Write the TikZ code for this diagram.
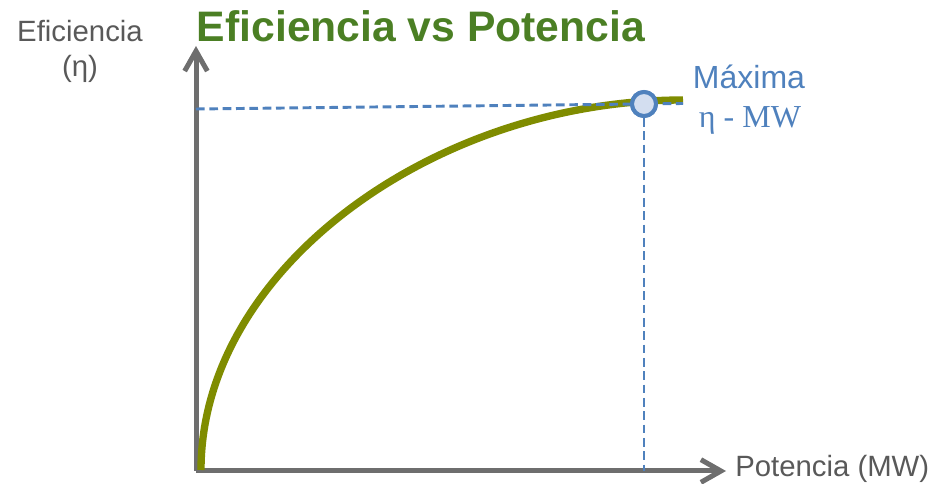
\documentclass[tikz,border=0pt]{standalone}
\usepackage{fontspec}
\setmainfont{Liberation Sans}
\newfontfamily\serifnum{Liberation Serif}
\usetikzlibrary{arrows.meta,positioning}
\definecolor{axisgray}{HTML}{6E6E6E}
\definecolor{olive}{HTML}{7F8C00}
\definecolor{titlegreen}{HTML}{4B7F24}
\definecolor{peakblue}{HTML}{4F81BD}
\definecolor{peakfill}{HTML}{D3DEF0}
\definecolor{labelgray}{HTML}{595959}

\tikzset{
  axis/.style={draw=axisgray, line width=3.75pt, -{Straight Barb[length=15pt,width=17pt]}},
  curve/.style={draw=olive, line width=5.5pt},
  guide/.style={draw=peakblue, line width=2.2pt, dash pattern=on 6.5pt off 3.5pt},
  peak/.style={circle, draw=peakblue, fill=peakfill, line width=3pt, minimum size=18pt, inner sep=0pt},
  axlabel/.style={text=labelgray, font=\fontsize{22}{26}\selectfont, inner sep=0pt},
  peaklabel/.style={text=peakblue, font=\fontsize{24}{28}\selectfont, inner sep=0pt}
}

\begin{document}
\begin{tikzpicture}[x=0.75pt, y=-0.75pt]
      \useasboundingbox (0,0) rectangle (943,484);
      % Define coordinates
      \coordinate (o) at (196,471);
      \coordinate (ytip) at (196,46);
      \coordinate (xtip) at (726,471);
      \coordinate (c0) at (201,470);
      \coordinate (c1) at (683,100);
      \coordinate (ylev) at (196,109);
      \coordinate (hend) at (683,103.5);
      \coordinate (xlev) at (644,471);
      % Axes
      \draw[axis] (o) -- (ytip);
      \draw[axis] (o) -- (xtip);
      % Curve
      \draw[curve] (c0) .. controls (201,270) and (433,100) .. (c1);
      % Peak and guides
      \node[peak] (pk) at (644,104) {};
      \draw[guide] (ylev) -- (hend);
      \draw[guide] (pk) -- (xlev);
      \node[peak] at (pk) {};
      % Labels
      \node[anchor=base, text=titlegreen, font=\fontsize{32}{38}\selectfont\bfseries, inner sep=0pt] (title) at (421,42) {Eficiencia vs Potencia};
      \node[axlabel, anchor=base] (ylab) at (80,42) {Eficiencia};
      \node[axlabel, anchor=base] (yunit) at (80,77) {(η)};
      \node[axlabel, anchor=base west] (xlab) at (735,477) {Potencia (MW)};
      \node[peaklabel, anchor=base] (maxlab) at (749,89) {Máxima};
      \node[peaklabel, anchor=base, font=\fontsize{24}{28}\serifnum] (unitlab) at (750,128) {η - MW};
\end{tikzpicture}
\end{document}
